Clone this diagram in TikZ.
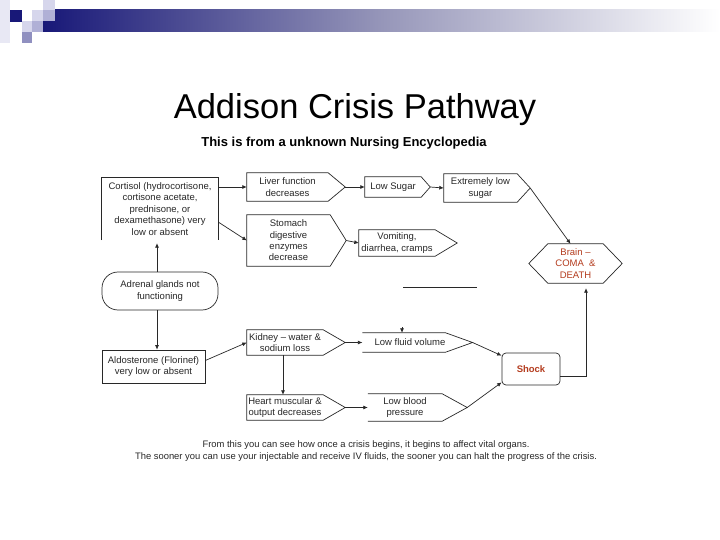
\documentclass[tikz,border=0pt]{standalone}
\usepackage{fontspec}
\setmainfont{Liberation Sans}
\usetikzlibrary{arrows.meta,calc}
\definecolor{navy}{RGB}{24,24,120}
\definecolor{lav1}{RGB}{214,214,236}
\definecolor{lav2}{RGB}{176,176,214}
\definecolor{lav3}{RGB}{144,144,192}
\definecolor{lav0}{RGB}{232,232,244}
\definecolor{ink}{RGB}{40,40,40}
\definecolor{alert}{RGB}{180,60,30}
\newcommand\pentbox[2]{%
  \coordinate (#1-tip) at ([xshift=#2]#1.east);
  \draw[box] (#1.north west) -- (#1.north east) -- (#1-tip) -- (#1.south east) -- (#1.south west) -- cycle;}
\newcommand\pentopen[2]{%
  \coordinate (#1-tip) at ([xshift=#2]#1.east);
  \draw[box] (#1.north west) -- (#1.north east) -- (#1-tip) -- (#1.south east) -- (#1.south west);}
\begin{document}
\begin{tikzpicture}[x=1pt,y=-1pt,
  box/.style={draw=ink,line width=0.7pt},
  txt/.style={font=\fontsize{9.5}{11.4}\selectfont,text=ink,align=center,inner sep=0pt},
  arr/.style={draw=ink,line width=0.7pt,-{Latex[length=4.5pt,width=4pt]}},
  plain/.style={draw=ink,line width=0.7pt}]
\useasboundingbox (0,0) rectangle (720,540);
\fill[white] (0,0) rectangle (720,540);
% slide decoration
\fill[lav0] (0,0) rectangle (10,43);
\shade[left color=navy,right color=white,middle color={rgb,255:red,150;green,150;blue,185}] (43,10) rectangle (720,32);
\fill[lav1] (43,0) rectangle (55,10);
\fill[navy] (10,10) rectangle (22,22);
\fill[lav1] (32,10) rectangle (43,21);
\fill[lav2] (43,10) rectangle (55,21);
\fill[lav1] (22,21) rectangle (32,32);
\fill[lav2] (32,21) rectangle (43,32);
\fill[lav3] (22,32) rectangle (32,43);
% titles
\node[font=\fontsize{34.5}{38}\selectfont,text=black,inner sep=0pt] (title) at (355,110) {Addison Crisis Pathway};
\node[font=\fontsize{13}{15}\selectfont\bfseries,text=black,inner sep=0pt] (sub) at (344,143) {This is from a unknown Nursing Encyclopedia};
% nodes
\node[txt,minimum width=116,minimum height=62] (cort) at (160,209) {Cortisol (hydrocortisone,\\cortisone acetate,\\prednisone, or\\dexamethasone) very\\low or absent};
\draw[box] (cort.south west) -- (cort.north west) -- (cort.north east) -- (cort.south east);
\node[txt,minimum width=81,minimum height=28] (liver) at (287.5,187) {Liver function\\decreases};
\pentbox{liver}{17pt}
\node[txt,minimum width=83,minimum height=51] (stom) at (288.5,240.5) {Stomach\\digestive\\enzymes\\decrease};
\pentbox{stom}{16pt}
\node[txt,minimum width=56,minimum height=20] (lowsug) at (393,187) {Low Sugar};
\pentbox{lowsug}{9pt}
\node[txt,minimum width=73,minimum height=28] (extlow) at (480.5,188) {Extremely low\\sugar};
\pentbox{extlow}{13pt}
\node[txt,minimum width=76,minimum height=26] (vomit) at (397,243) {Vomiting,\\diarrhea, cramps};
\pentbox{vomit}{22pt}
\node[txt,text=alert,minimum width=55,minimum height=39] (brain) at (575.5,263.5) {Brain --\\COMA \ \&\\DEATH};
\draw[box] (brain.north west) -- (brain.north east) -- ([xshift=19pt]brain.east) -- (brain.south east) -- (brain.south west) -- ([xshift=-19pt]brain.west) -- cycle;
\node[txt,draw=ink,line width=0.7pt,rounded corners=16pt,minimum width=116,minimum height=38] (adrenal) at (160,291) {Adrenal glands not\\functioning};
\node[txt,draw=ink,line width=0.7pt,minimum width=103,minimum height=33] (aldo) at (153.5,366.5) {Aldosterone (Florinef)\\very low or absent};
\node[txt,minimum width=76,minimum height=25] (kidney) at (285,342.5) {Kidney -- water \&\\sodium loss};
\pentbox{kidney}{22pt}
\node[txt,minimum width=76,minimum height=25] (heart) at (285,407.5) {Heart muscular \&\\output decreases};
\pentbox{heart}{22pt}
\node[txt,minimum width=72,minimum height=19] (lowfluid) at (404,342.5) {\hspace{12pt}Low fluid volume};
\pentopen{lowfluid}{27pt}
\node[txt,minimum width=74,minimum height=27] (lowbp) at (405,407.5) {Low blood\\pressure};
\pentopen{lowbp}{25pt}
\node[txt,text=alert,draw=ink,line width=0.7pt,rounded corners=4pt,minimum width=58,minimum height=32,font=\fontsize{9.5}{11}\selectfont\bfseries] (shock) at (531,369) {Shock};
% connectors
\draw[arr] ([xshift=-3pt]adrenal.north) -- ([xshift=-3pt,yshift=-3pt]cort.south);
\draw[arr] ([xshift=-3pt]adrenal.south) -- ([xshift=3.5pt]aldo.north);
\draw[arr] (cort.east |- liver.west) -- (liver.west);
\draw[arr] ([yshift=-13pt]cort.east) -- (stom.west);
\draw[arr] (liver-tip) -- (lowsug.west);
\draw[arr] (lowsug-tip) -- (extlow.west);
\draw[arr] (extlow-tip) -- ([xshift=-5pt]brain.north);
\draw[arr] (stom-tip) -- (vomit.west);
\draw[arr] ([yshift=6pt]aldo.east) -- (kidney.west);
\draw[arr] ([xshift=-2pt]kidney.south) -- ([xshift=-2pt]heart.north);
\draw[arr] (kidney-tip) -- (lowfluid.west);
\draw[arr] (heart-tip) -- (lowbp.west);
\draw[arr] (lowfluid-tip) -- ([yshift=-3pt]shock.north west);
\draw[arr] (lowbp-tip) -- ([yshift=3pt]shock.south west);
\draw[arr] ([yshift=-7pt]shock.east) -| ([xshift=10.5pt,yshift=-5pt]brain.south);
% stray marks
\coordinate (strayA) at (403,287);
\coordinate (strayB) at (477,287);
\draw[plain] (strayA) -- (strayB);
\coordinate (tickA) at (402,327);
\draw[arr] (tickA) -- (tickA |- lowfluid.north);
% caption
\node[font=\fontsize{9.4}{12}\selectfont,text=ink,align=center,inner sep=0pt] (cap) at (366,451) {From this you can see how once a crisis begins, it begins to affect vital organs.\\The sooner you can use your injectable and receive IV fluids, the sooner you can halt the progress of the crisis.};
\end{tikzpicture}
\end{document}
